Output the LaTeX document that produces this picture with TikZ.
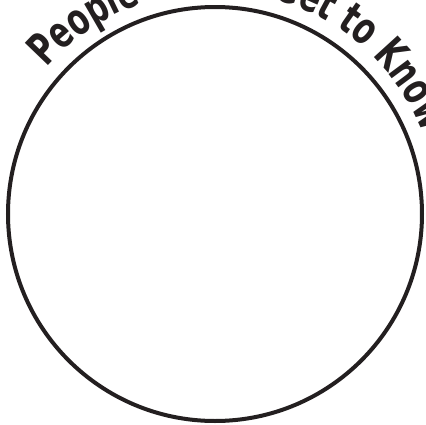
\documentclass[tikz,border=0pt]{standalone}
\usepackage{fontspec}
\usepackage{xcolor}
\usepackage{tikz}
\usetikzlibrary{decorations.text}
\newfontfamily\arcfont[FakeStretch=0.76]{DejaVu Sans Condensed}
\definecolor{InkBlack}{HTML}{231F20}

\tikzset{
  ring/.style={draw=InkBlack,line width=4pt},
  arclabel/.style={decorate,decoration={text along path,text align=left,
    text color=InkBlack,
    text={|\arcfont\bfseries\fontsize{44}{50}\selectfont|#1}}}
}

\begin{document}
\begin{tikzpicture}
    \useasboundingbox (-215pt,-210pt) rectangle (211pt,214pt);
    \clip (-215pt,-210pt) rectangle (211pt,214pt);
    \coordinate (centre) at (0,0);
    % the circle
    \draw[ring] (centre) circle[radius=207pt];
    % words round the top
    \path[arclabel={People}] (centre) ++(139:223pt)
      arc[start angle=139,end angle=100,radius=223pt];
    \path[arclabel={Get to Know}] (centre) ++(75:223pt)
      arc[start angle=75,end angle=5,radius=223pt];
  \end{tikzpicture}
\end{document}
